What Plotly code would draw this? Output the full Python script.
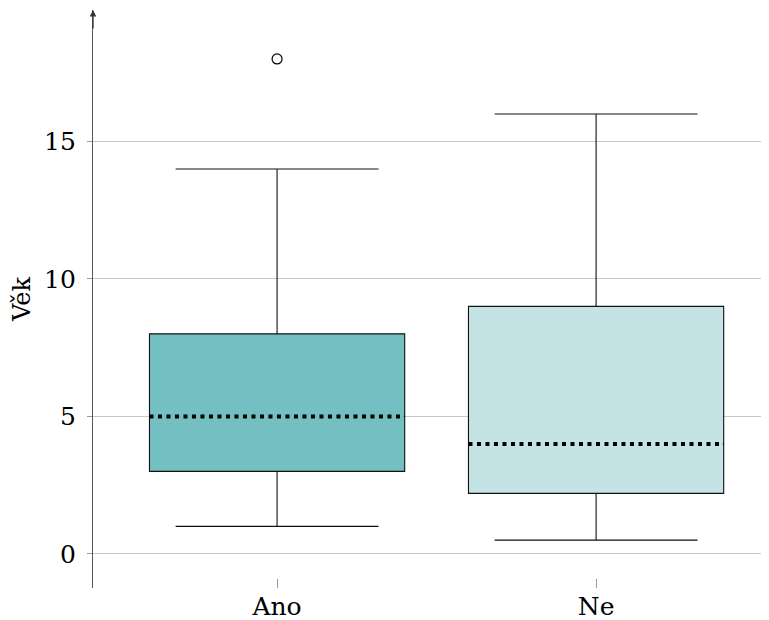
import plotly.graph_objects as go

categories = ["Ano", "Ne"]
q1 = [3.0, 2.2]
median = [5.0, 4.0]
q3 = [8.0, 9.0]
lower = [1.0, 0.5]
upper = [14.0, 16.0]
outlier_cat = [0]
outlier_val = [18.0]
fills = ["#74BFC1", "#C4E3E5"]

BOX_W = 0.8
FONT = "DejaVu Serif, serif"

fig = go.Figure()
for i, cat in enumerate(categories):
    fig.add_trace(go.Box(
        x=[i], q1=[q1[i]], median=[median[i]], q3=[q3[i]],
        lowerfence=[lower[i]], upperfence=[upper[i]],
        width=BOX_W, whiskerwidth=0.795,
        fillcolor=fills[i], line=dict(color="#111111", width=1.1),
        boxpoints=False, hoverinfo="skip", showlegend=False,
    ))

# median lines: cover the default solid median, then draw dotted
for i, cat in enumerate(categories):
    half = BOX_W / 2 - 0.003
    fig.add_trace(go.Scatter(
        x=[i - half, i + half], y=[median[i], median[i]], mode="lines",
        line=dict(color=fills[i], width=3), hoverinfo="skip", showlegend=False,
    ))
    fig.add_trace(go.Scatter(
        x=[i - BOX_W / 2, i + BOX_W / 2], y=[median[i], median[i]], mode="lines",
        line=dict(color="black", width=4, dash="4px,4.5px"),
        hoverinfo="skip", showlegend=False,
    ))

fig.add_trace(go.Scatter(
    x=outlier_cat, y=outlier_val, mode="markers",
    marker=dict(symbol="circle-open", size=10, color="black", line=dict(width=1.2)),
    hoverinfo="skip", showlegend=False,
))

fig.update_layout(
    width=761, height=612,
    margin=dict(l=85, r=0, t=2, b=32),
    paper_bgcolor="white", plot_bgcolor="white",
    font=dict(family=FONT, size=25, color="black"),
    xaxis=dict(
        range=[-0.577, 1.542], tickvals=[0, 1], ticktext=categories,
        ticks="inside", ticklen=9, tickcolor="#999999", tickwidth=1,
        showgrid=False, zeroline=False, showline=False, ticklabelstandoff=1,
    ),
    yaxis=dict(
        range=[-1.24, 19.78], tickvals=[0, 5, 10, 15],
        ticks="outside", ticklen=5, tickcolor="#999999", ticklabelstandoff=6,
        showgrid=True, gridcolor="#c8c8c8", gridwidth=1,
        zeroline=False, showline=True, linecolor="#555555", linewidth=1.3,
        title=dict(text="Věk", font=dict(size=24), standoff=18),
    ),
    annotations=[dict(
        x=0, y=1, xref="paper", yref="paper", ax=0, ay=20, text="",
        showarrow=True, arrowhead=2, arrowsize=1, arrowwidth=1.3, arrowcolor="#333333",
    )],
)

fig.write_html("out.html")
